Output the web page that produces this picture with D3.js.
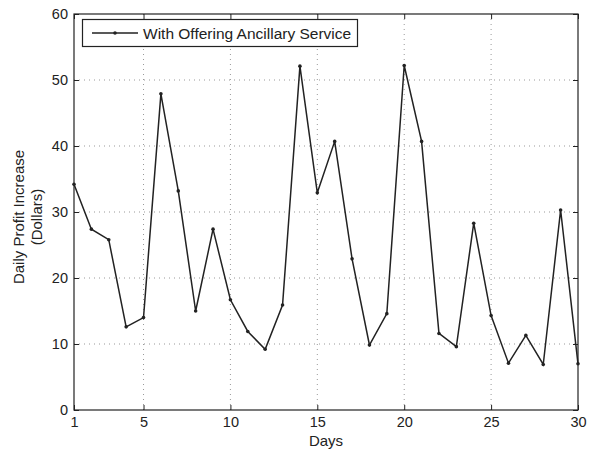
<!DOCTYPE html>
<html><head><meta charset="utf-8">
<script src="https://cdn.jsdelivr.net/npm/d3@7"></script>
<style>body{margin:0;background:#fff}svg{display:block}text{font-family:"Liberation Sans",Arial,sans-serif}</style>
</head><body>
<svg id="c" width="593" height="452"></svg>
<script>
const days = d3.range(1, 31);
const profit = [34.2,27.4,25.8,12.6,14.0,47.9,33.2,15.0,27.4,16.7,11.9,9.2,15.9,52.1,32.9,40.7,22.9,9.85,14.6,52.2,40.7,11.6,9.6,28.3,14.3,7.1,11.3,6.9,30.3,7.0];
const xTicks = [1,5,10,15,20,25,30];
const yTicks = [0,10,20,30,40,50,60];
const seriesName = "With Offering Ancillary Service";
const xLabel = "Days";
const yLabel = ["Daily Profit Increase","(Dollars)"];

const svg = d3.select("#c");
const L=74, R=578, T=14, B=410;
const x = d3.scaleLinear().domain([1,30]).range([L,R]);
const y = d3.scaleLinear().domain([0,60]).range([B,T]);
const ink="#222";

// grid
const g = svg.append("g");
g.selectAll("line.gx").data(xTicks.filter(d=>d>1&&d<30)).join("line")
  .attr("x1",d=>x(d)).attr("x2",d=>x(d)).attr("y1",T).attr("y2",B)
  .attr("stroke","#999").attr("stroke-width",1).attr("stroke-dasharray","1,4");
g.selectAll("line.gy").data(yTicks.filter(d=>d>0&&d<60)).join("line")
  .attr("y1",d=>y(d)).attr("y2",d=>y(d)).attr("x1",L).attr("x2",R)
  .attr("stroke","#999").attr("stroke-width",1).attr("stroke-dasharray","1,4");

// axes
const fs = 14.5;
const ax = svg.append("g").attr("transform",`translate(0,${B})`).call(d3.axisBottom(x).tickValues(xTicks).tickSize(-5).tickPadding(7).tickFormat(d3.format("d")));
const ay = svg.append("g").attr("transform",`translate(${L},0)`).call(d3.axisLeft(y).tickValues(yTicks).tickSize(-5).tickPadding(6));
const axT = svg.append("g").attr("transform",`translate(0,${T})`).call(d3.axisTop(x).tickValues(xTicks).tickSize(-5).tickFormat(""));
const ayR = svg.append("g").attr("transform",`translate(${R},0)`).call(d3.axisRight(y).tickValues(yTicks).tickSize(-5).tickFormat(""));
[ax,ay,axT,ayR].forEach(a=>{
  a.select(".domain").remove();
  a.selectAll("line").attr("stroke",ink);
  a.selectAll("text").attr("fill",ink).style("font-size",fs+"px").style("font-family","'Liberation Sans',Arial,sans-serif");
});
svg.append("rect").attr("x",L).attr("y",T).attr("width",R-L).attr("height",B-T)
  .attr("fill","none").attr("stroke",ink).attr("stroke-width",1.2);

// labels
svg.append("text").attr("x",(L+R)/2).attr("y",445.5).attr("text-anchor","middle")
  .style("font-size","15px").attr("fill",ink).text(xLabel);
const yl = svg.append("text").attr("transform",`translate(0,217) rotate(-90)`)
  .attr("text-anchor","middle").style("font-size","15px").attr("fill",ink);
yLabel.forEach((t,i)=>yl.append("tspan").attr("x",0).attr("y",i===0?24:42).text(t));

// line
const pts = days.map((d,i)=>[d,profit[i]]);
svg.append("path").datum(pts)
  .attr("d",d3.line().x(d=>x(d[0])).y(d=>y(d[1])))
  .attr("fill","none").attr("stroke",ink).attr("stroke-width",1.5);
svg.selectAll("circle.m").data(pts).join("circle")
  .attr("cx",d=>x(d[0])).attr("cy",d=>y(d[1])).attr("r",1.8).attr("fill",ink);

// legend
const lg = svg.append("g");
lg.append("rect").attr("x",82.5).attr("y",19.5).attr("width",275).attr("height",27)
  .attr("fill","#fff").attr("stroke",ink).attr("stroke-width",1.2);
lg.append("line").attr("x1",92).attr("x2",138).attr("y1",33).attr("y2",33).attr("stroke",ink).attr("stroke-width",1.5);
lg.append("circle").attr("cx",115).attr("cy",33).attr("r",1.8).attr("fill",ink);
lg.append("text").attr("x",143).attr("y",39).style("font-size","15.5px").attr("fill",ink).text(seriesName);
</script>
</body></html>
